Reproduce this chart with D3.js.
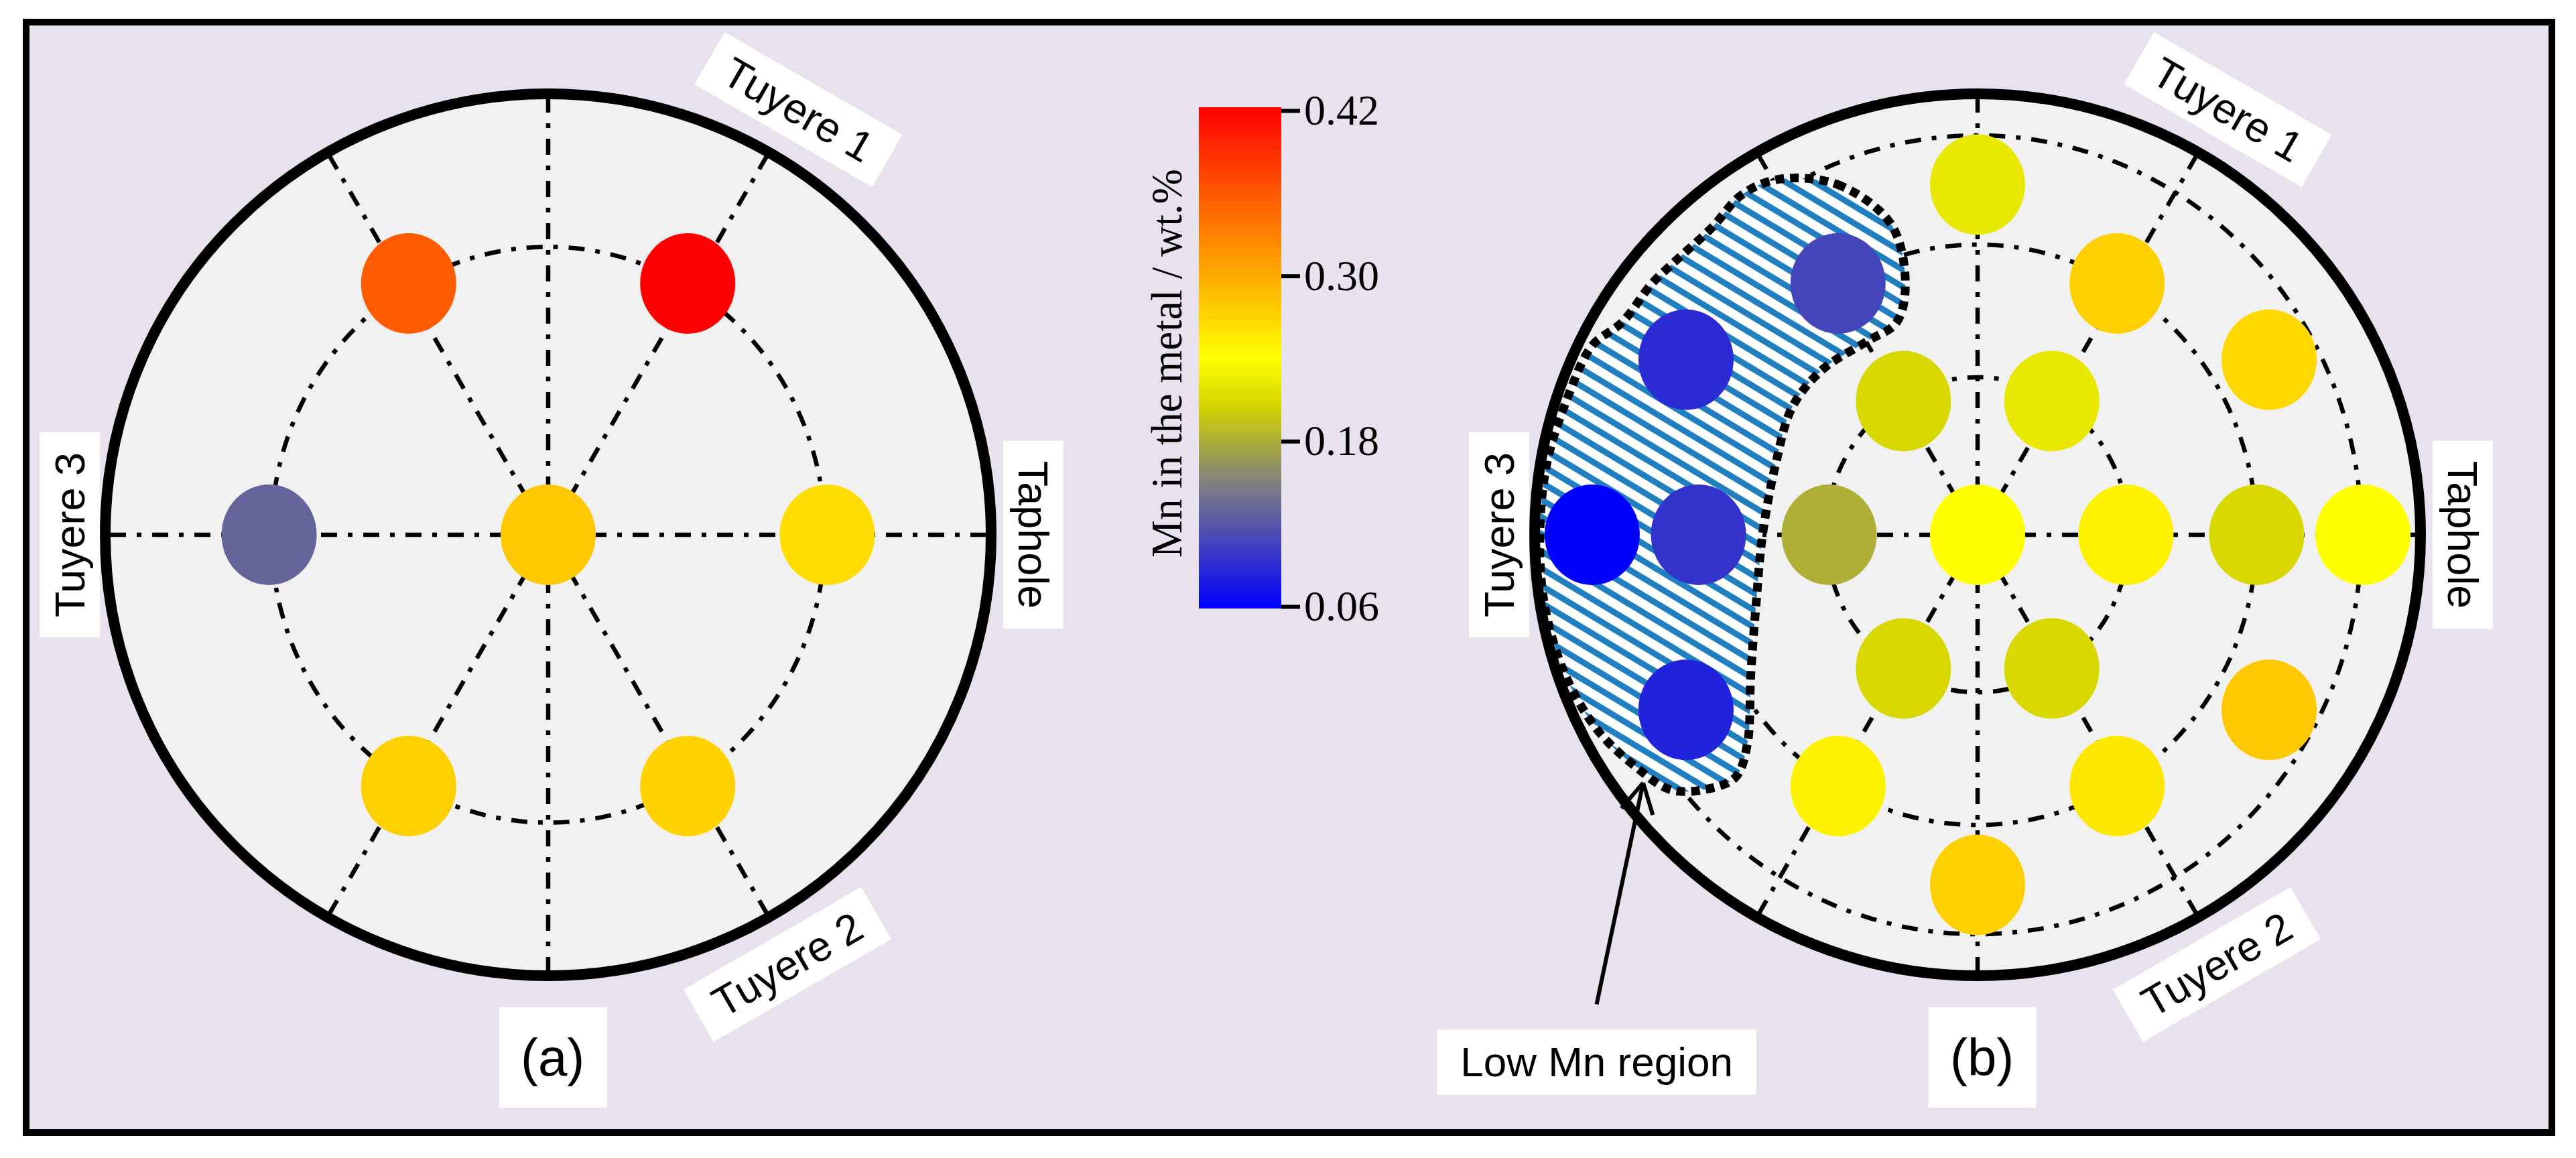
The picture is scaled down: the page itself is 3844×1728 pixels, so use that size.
<!DOCTYPE html>
<html><head><meta charset="utf-8">
<script src="https://cdn.jsdelivr.net/npm/d3@7"></script>
<style>body{margin:0;background:#fff}svg{display:block}</style>
</head><body>
<svg id="chart" width="3844" height="1728"></svg>
<script>
// ---------------- DATA ----------------
const hearthLabels = ["Tuyere 1", "Tuyere 2", "Tuyere 3", "Taphole"];
const labelX = [0.565, 0.54, -1.08, 1.095];      // normalised hearth coords
const labelY = [0.96, -0.97, 0.0, 0.0];
const labelRot = [30, -30, -90, 90];
const panelNames = ["(a)", "(b)"];

// radial grid directions (deg) and dash-dot rings (normalised radius)
const radialAngles = [0, 60, 90, 120, 180, 240, 270, 300];
const ringsA = [0.625];
const ringsB = [0.342, 0.63, 0.867];

// Panel (a): sampling positions (normalised radius, angle deg) and Mn wt.%
const radiusA = [0, 0.63, 0.63, 0.63, 0.63, 0.63, 0.63];
const angleA  = [0, 0, 60, 120, 180, 240, 300];
const mnA     = [0.279, 0.264, 0.42, 0.356, 0.131, 0.273, 0.272];

// Panel (b)
const radiusB = [0,
  0.335, 0.335, 0.335, 0.335, 0.335, 0.335,
  0.63, 0.63, 0.63, 0.63, 0.63, 0.63,
  0.76, 0.76, 0.76, 0.76, 0.76, 0.76,
  0.87, 0.87];
const angleB = [0,
  0, 60, 120, 180, 240, 300,
  0, 60, 120, 180, 240, 300,
  30, 90, 150, 210, 270, 330,
  0, 180];
const mnB = [0.24,
  0.249, 0.221, 0.208, 0.181, 0.208, 0.208,
  0.208, 0.273, 0.108, 0.096, 0.249, 0.256,
  0.2675, 0.221, 0.09, 0.084, 0.273, 0.279,
  0.24, 0.06];

// low-Mn region outline in panel (b), normalised hearth coords
const lowMnX = [-0.452,-0.317,-0.196,-0.163,-0.183,-0.249,-0.350,-0.418,-0.455,-0.485,-0.500,-0.512,-0.520,-0.547,-0.621,-0.695,-0.769,-0.857,-0.931,-0.978,-0.988,-0.972,-0.925,-0.870,-0.802,-0.736,-0.681,-0.600,-0.533];
const lowMnY = [0.802,0.791,0.702,0.571,0.479,0.437,0.373,0.289,0.163,0.003,-0.156,-0.316,-0.474,-0.548,-0.576,-0.575,-0.526,-0.442,-0.316,-0.156,0.003,0.163,0.311,0.427,0.480,0.566,0.619,0.693,0.767];
const annotationText = "Low Mn region";
const arrowTip = [-0.755, -0.56];
const arrowTail = [-0.86, -1.06];
const annotationPos = [-0.86, -1.19];

// colour bar
const cbTicks = [0.06, 0.18, 0.30, 0.42];
const cbTitle = "Mn in the metal / wt.%";
const colorDomain = [0.06, 0.15, 0.205, 0.24, 0.42];
const colorRange = ["#0000ff", "#808080", "#d4d400", "#ffff00", "#ff0000"];

// ---------------- LAYOUT ----------------
const svg = d3.select("#chart");
const R = 661, ASPECT = 1.04;
const panels = [
  {cx: 818, cy: 798, rings: ringsA, r: radiusA, a: angleA, mn: mnA, name: panelNames[0], blob: false},
  {cx: 2951, cy: 798, rings: ringsB, r: radiusB, a: angleB, mn: mnB, name: panelNames[1], blob: true}
];
const color = d3.scaleLinear().domain(colorDomain).range(colorRange).interpolate(d3.interpolateRgb);
const sansFont = "'Liberation Sans', Arial, sans-serif";
const serifFont = "'Liberation Serif', 'Times New Roman', serif";

// background frame
svg.append("rect").attr("x", 39).attr("y", 33).attr("width", 3769).attr("height", 1657)
  .attr("fill", "#e8e1ee").attr("stroke", "#000").attr("stroke-width", 10);

// hatch pattern
const defs = svg.append("defs");
const pat = defs.append("pattern").attr("id", "hatch").attr("patternUnits", "userSpaceOnUse")
  .attr("width", 40).attr("height", 22).attr("patternTransform", "rotate(31)");
pat.append("rect").attr("width", 40).attr("height", 22).attr("fill", "#fff");
pat.append("rect").attr("y", 0).attr("width", 40).attr("height", 9).attr("fill", "#1f7fc0");

const dashDot = "24 16 7 16";

panels.forEach(p => {
  const g = svg.append("g");
  const sx = d3.scaleLinear().domain([-1, 1]).range([p.cx - R, p.cx + R]);
  const sy = d3.scaleLinear().domain([-1, 1]).range([p.cy + R, p.cy - R]);
  const syi = d3.scaleLinear().domain([-1, 1]).range([p.cy + R * ASPECT, p.cy - R * ASPECT]);
  const rad = d => d * Math.PI / 180;

  // hearth
  g.append("circle").attr("cx", sx(0)).attr("cy", sy(0)).attr("r", R).attr("fill", "#f1f1f1");

  // rings
  g.selectAll(".ring").data(p.rings).join("ellipse")
    .attr("cx", sx(0)).attr("cy", sy(0))
    .attr("rx", d => sx(d) - sx(0)).attr("ry", d => syi(0) - syi(d))
    .attr("fill", "none").attr("stroke", "#000").attr("stroke-width", 6.5)
    .attr("stroke-dasharray", dashDot);

  // radial lines
  g.selectAll(".rad").data(radialAngles).join("line")
    .attr("x1", sx(0)).attr("y1", sy(0))
    .attr("x2", d => sx(Math.cos(rad(d)))).attr("y2", d => sy(Math.sin(rad(d))))
    .attr("stroke", "#000").attr("stroke-width", 6.5).attr("stroke-dasharray", dashDot);

  // low Mn region
  if (p.blob) {
    const pts = lowMnX.map((x, i) => [sx(x), sy(lowMnY[i])]);
    const line = d3.line().curve(d3.curveCatmullRomClosed.alpha(0.5));
    g.append("path").attr("d", line(pts)).attr("fill", "url(#hatch)").attr("stroke", "none");
    g.append("path").attr("d", line(pts)).attr("fill", "none")
      .attr("stroke", "#000").attr("stroke-width", 13).attr("stroke-dasharray", "13 9");
  }

  // points
  g.selectAll(".pt").data(p.mn).join("ellipse")
    .attr("cx", (d, i) => sx(p.r[i] * Math.cos(rad(p.a[i]))))
    .attr("cy", (d, i) => syi(p.r[i] * Math.sin(rad(p.a[i]))))
    .attr("rx", 71).attr("ry", 75)
    .attr("fill", d => color(d));

  // hearth wall
  g.append("ellipse").attr("cx", sx(0)).attr("cy", sy(0)).attr("rx", R).attr("ry", R - 3)
    .attr("fill", "none").attr("stroke", "#000").attr("stroke-width", 16);

  // labels
  hearthLabels.forEach((t, i) => {
    const lg = g.append("g").attr("transform", `translate(${sx(labelX[i])},${sy(labelY[i])}) rotate(${labelRot[i]})`);
    const box = lg.append("rect").attr("fill", "#fff");
    const tx = lg.append("text").text(t).attr("text-anchor", "middle").attr("dominant-baseline", "central")
      .attr("font-family", sansFont).attr("font-size", 63).attr("fill", "#000");
    const w = tx.node().getComputedTextLength() + 60;
    box.attr("x", -w / 2).attr("y", -45).attr("width", w).attr("height", 90);
  });

  // panel name
  const ng = g.append("g").attr("transform", `translate(${sx(0.01)},${sy(-1.18)})`);
  ng.append("rect").attr("x", -80).attr("y", -75).attr("width", 161).attr("height", 150).attr("fill", "#fff");
  ng.append("text").text(p.name).attr("text-anchor", "middle").attr("dominant-baseline", "central")
    .attr("font-family", sansFont).attr("font-size", 78).attr("fill", "#000");

  // annotation
  if (p.blob) {
    const tip = [sx(arrowTip[0]), sy(arrowTip[1])], tail = [sx(arrowTail[0]), sy(arrowTail[1])];
    g.append("line").attr("x1", tail[0]).attr("y1", tail[1]).attr("x2", tip[0]).attr("y2", tip[1])
      .attr("stroke", "#000").attr("stroke-width", 6);
    const ang = Math.atan2(tail[1] - tip[1], tail[0] - tip[0]);
    [-0.5, 0.5].forEach(o => {
      g.append("line").attr("x1", tip[0]).attr("y1", tip[1])
        .attr("x2", tip[0] + 50 * Math.cos(ang + o)).attr("y2", tip[1] + 50 * Math.sin(ang + o))
        .attr("stroke", "#000").attr("stroke-width", 6);
    });
    const ag = g.append("g").attr("transform", `translate(${sx(annotationPos[0])},${sy(annotationPos[1])})`);
    const ab = ag.append("rect").attr("fill", "#fff");
    const at = ag.append("text").text(annotationText).attr("text-anchor", "middle").attr("dominant-baseline", "central")
      .attr("font-family", sansFont).attr("font-size", 62).attr("fill", "#000");
    const aw = at.node().getComputedTextLength() + 70;
    ab.attr("x", -aw / 2).attr("y", -48).attr("width", aw).attr("height", 97);
  }
});

// colour bar
const cb = {x: 1789, w: 123, top: 160, bottom: 908};
const cbScale = d3.scaleLinear().domain([0.06, 0.42]).range([905, 165]);
const grad = defs.append("linearGradient").attr("id", "cbgrad")
  .attr("x1", 0).attr("y1", 1).attr("x2", 0).attr("y2", 0);
d3.range(0, 1.0001, 0.02).forEach(f => {
  const v = 0.06 + f * 0.36;
  grad.append("stop").attr("offset", f).attr("stop-color", color(v));
});
svg.append("rect").attr("x", cb.x).attr("y", cb.top).attr("width", cb.w).attr("height", cb.bottom - cb.top)
  .attr("fill", "url(#cbgrad)");
const axis = d3.axisRight(cbScale).tickValues(cbTicks).tickFormat(d3.format(".2f")).tickSize(28).tickPadding(6);
const ag = svg.append("g").attr("transform", `translate(${cb.x + cb.w},0)`).call(axis);
ag.select(".domain").remove();
ag.selectAll(".tick line").attr("stroke", "#000").attr("stroke-width", 6);
ag.selectAll(".tick text").attr("font-family", serifFont).attr("font-size", 64).attr("fill", "#000");
svg.append("text").text(cbTitle)
  .attr("transform", `translate(1763,542) rotate(-90)`)
  .attr("text-anchor", "middle").attr("font-family", serifFont).attr("font-size", 66)
  .attr("textLength", 580).attr("lengthAdjust", "spacingAndGlyphs").attr("fill", "#000");
</script>
</body></html>
